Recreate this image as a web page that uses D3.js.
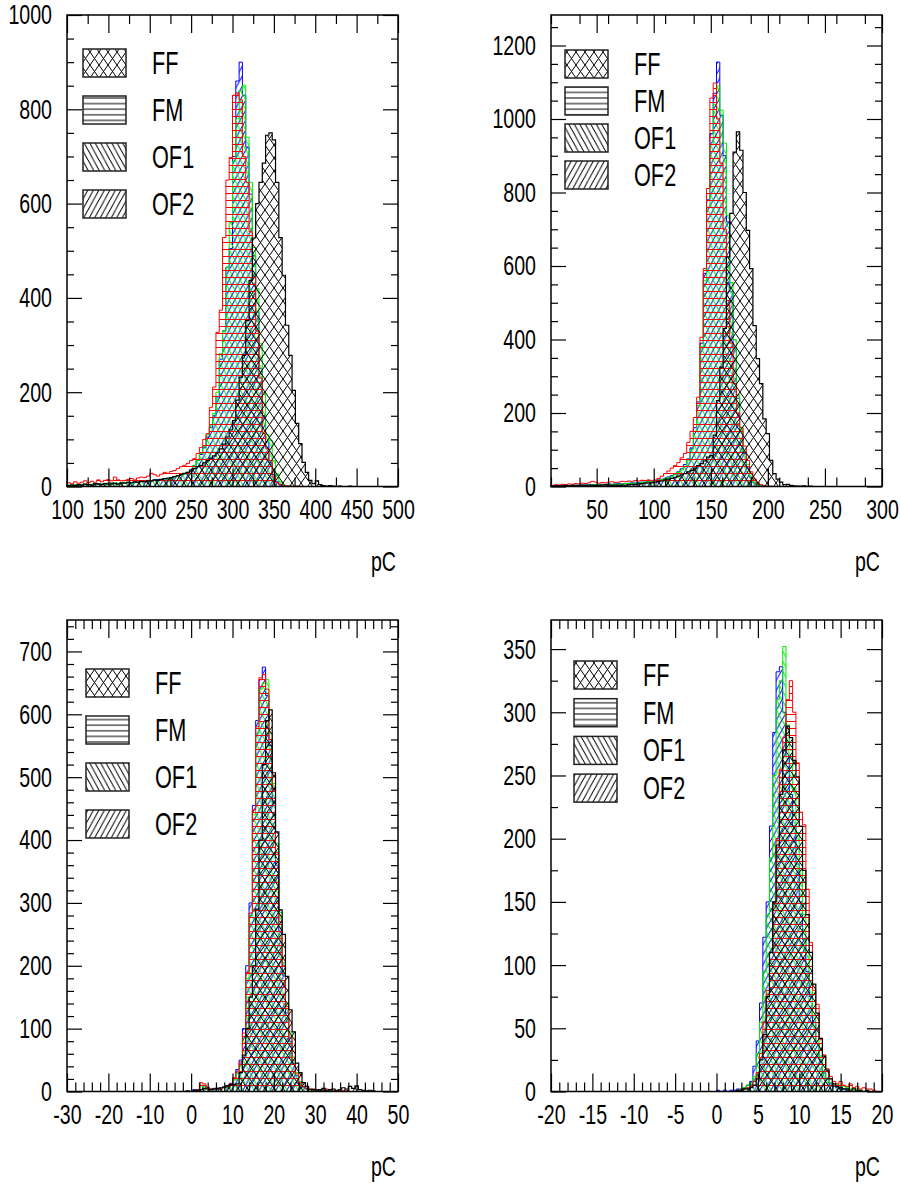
<!DOCTYPE html>
<html lang="en">
  <head>
    <meta charset="UTF-8" />
    <script src="https://d3js.org/d3.v7.min.js"></script>
    <title>pC spectra</title>
    <style>
      body { margin: 0; background: white; }
      text { font-family: "Liberation Sans", Arial, Helvetica, sans-serif; fill: black; }
      .tick line { stroke: black; stroke-width: 1.2px; }
    </style>
  </head>
  <body>
    <script>
      /*------------------- data (100 bins per histogram) --------------------*/
      const seriesNames = ["FF", "FM", "OF1", "OF2"];

      // panel 1 : 100..500 pC
      const p1XTicks = [100, 150, 200, 250, 300, 350, 400, 450, 500];
      const p1YTicks = [0, 200, 400, 600, 800, 1000];
      const p1_ff_first = 0;
      const p1_ff = [2,3,2,4,3,5,4,3,6,5,4,6,5,7,6,5,8,7,9,8,10,9,11,10,12,
        12,14,13,15,17,16,19,21,23,25,28,30,33,38,42,45,50,
        55,60,65,72,80,90,105,120,140,183,232,278,352,437,527,600,645,686,745,750,735,645,528,448,342,278,204,134,91,51,30,13,6,12,4,2,
        1,2,1,0,1,0,0,1];
      const p1_fm_first = 0;
      const p1_fm = [8,6,10,7,9,12,8,11,9,14,10,13,15,12,20,14,12,
        13,15,17,14,18,20,19,22,
        28,25,22,26,30,28,32,34,
        38,42,45,49,55,59,70,
        83,100,112,168,211,327,374,528,650,698,830,835,820,700,645,540,444,330,230,112,80,55,20,8,4,
        2,1,1,0,1];
      const p1_of1_first = 0;
      const p1_of1 = [3,2,4,3,5,4,3,5,6,4,5,7,6,5,8,7,6,9,8,7,10,9,11,10,12,
        12,14,13,15,16,18,17,20,22,24,26,
        28,35,45,55,70,85,110,130,155,200,282,330,465,560,690,780,840,851,741,645,507,420,303,200,110,98,55,27,10,3,
        2,1];
      const p1_of2_first = 0;
      const p1_of2 = [2,3,3,4,2,5,4,4,5,6,5,6,7,5,8,6,7,8,9,8,9,10,12,11,13,12,13,15,14,16,18,19,21,22,25,27,
        30,36,44,55,68,82,105,125,150,190,270,330,465,505,700,860,900,830,720,620,490,370,250,150,95,50,25,10,3,
        1,1];

      // panel 2 : 10..300 pC
      const p2XTicks = [50, 100, 150, 200, 250, 300];
      const p2YTicks = [0, 200, 400, 600, 800, 1000, 1200];
      const p2_ff_first = 0;
      const p2_ff = [1,2,1,2,3,2,3,2,3,4,3,2,4,3,3,4,5,4,3,4,
        3,4,4,5,6,5,7,8,9,10,
        10,12,14,15,18,20,22,25,28,32,
        35,40,44,50,57,62,70,80,
        84,140,234,325,430,625,743,910,965,915,800,697,593,438,348,280,184,144,71,35,20,12,5,6,3,2,
        1,1,2,0,1];
      const p2_fm_first = 0;
      const p2_fm = [3,5,4,6,5,7,6,8,7,9,8,10,14,12,9,11,10,12,13,11,
        12,14,13,15,14,16,15,17,16,18,
        15,18,22,28,35,42,50,57,65,78,90,120,150,188,243,
        406,593,811,1057,1098,1000,880,700,506,390,280,200,161,110,71,40,20,10,5,
        2,1,1];
      const p2_of1_first = 0;
      const p2_of1 = [1,2,1,2,2,3,2,3,3,4,3,4,4,5,4,5,6,5,6,7,6,7,8,8,9,10,9,11,12,13,
        14,15,17,19,21,24,28,32,38,45,55,70,100,150,
        220,380,560,760,930,1040,1090,1024,934,738,555,400,250,160,95,60,28,12,5,
        2,1];
      const p2_of2_first = 0;
      const p2_of2 = [2,1,2,3,2,2,3,4,3,3,4,5,4,5,5,6,5,7,6,7,8,7,8,9,10,9,11,12,12,14,
        15,16,18,20,22,26,30,34,40,48,60,75,105,160,
        230,390,580,780,960,1070,1155,1010,900,720,530,380,240,150,90,50,25,10,4,
        2,1];

      // panel 3 : -30..50 pC
      const p3XTicks = [-30, -20, -10, 0, 10, 20, 30, 40, 50];
      const p3YTicks = [0, 100, 200, 300, 400, 500, 600, 700];
      const p3_ff_first = 36;
      const p3_ff = [1,0,1,2,
        3,5,4,3,4,5,6,7,9,11,
        11,12,30,58,100,150,200,290,400,520,590,607,507,413,289,250,183,130,95,45,30,14,8,4,
        3,2,3,5,2,3,4,2,3,6,4,8,5,9,3,2,1,2,1];
      const p3_fm_first = 38;
      const p3_fm = [1,3,14,12,6,4,3,5,4,6,8,12,22,31,47,93,189,284,448,580,658,663,640,560,480,380,270,200,135,85,50,28,14,8,5,3,
        4,2,3,2,4,3,2,1,2,1,1];
      const p3_of1_first = 38;
      const p3_of1 = [1,2,10,8,5,4,3,4,5,6,7,10,18,28,42,85,180,280,440,570,640,650,655,570,490,395,285,205,140,95,55,30,16,8,4,
        3,2,2,3,1,2,1,1];
      const p3_of2_first = 38;
      const p3_of2 = [3,2,3,9,7,4,5,3,5,7,9,13,20,35,50,100,200,300,455,590,655,675,630,550,460,360,255,185,125,80,45,25,12,7,4,3,
        2,3,1,2,1];

      // panel 4 : -20..20 pC
      const p4XTicks = [-20, -15, -10, -5, 0, 5, 10, 15, 20];
      const p4YTicks = [0, 50, 100, 150, 200, 250, 300, 350];
      const p4_ff_first = 56;
      const p4_ff = [1,1,2,2,3,5,10,25,45,75,110,150,195,235,270,289,280,262,249,210,175,140,110,85,62,42,28,17,10,6,4,3,2,2,
        1,2,1,1,0,1];
      const p4_fm_first = 56;
      const p4_fm = [1,1,2,3,4,8,15,30,55,80,110,150,200,255,280,310,325,300,260,221,211,160,118,80,69,41,29,18,12,8,6,8,5,4,6,3,4,2,3,2,2,1];
      const p4_of1_first = 56;
      const p4_of1 = [1,2,3,5,7,12,30,55,95,140,185,250,310,325,352,290,270,240,205,175,140,110,85,60,40,28,15,10,7,5,6,3,4,3,2,3,2,1];
      const p4_of2_first = 50;
      const p4_of2 = [1,0,1,0,1,1,2,2,3,5,8,20,40,70,122,150,210,284,332,336,300,265,235,210,180,150,120,95,75,55,38,25,15,10,6,4,3,2,2,1];

      /*------------------- layout --------------------*/
      const panels = [
        { left: 67, top: 15, xDom: [100, 500], yDom: [0, 1000], xTicks: p1XTicks, yTicks: p1YTicks,
          xMinor: 25, yMinor: 50, legX: 83, legY: 49, legStep: 47,
          data: [[p1_ff_first, p1_ff], [p1_fm_first, p1_fm], [p1_of1_first, p1_of1], [p1_of2_first, p1_of2]] },
        { left: 551, top: 15, xDom: [10, 300], yDom: [0, 1283], xTicks: p2XTicks, yTicks: p2YTicks,
          xMinor: 25, yMinor: 50, legX: 565, legY: 50, legStep: 37,
          data: [[p2_ff_first, p2_ff], [p2_fm_first, p2_fm], [p2_of1_first, p2_of1], [p2_of2_first, p2_of2]] },
        { left: 67, top: 620, xDom: [-30, 50], yDom: [0, 750], xTicks: p3XTicks, yTicks: p3YTicks,
          xMinor: 2, yMinor: 20, legX: 86, legY: 669, legStep: 47,
          data: [[p3_ff_first, p3_ff], [p3_fm_first, p3_fm], [p3_of1_first, p3_of1], [p3_of2_first, p3_of2]] },
        { left: 551, top: 620, xDom: [-20, 20], yDom: [0, 373], xTicks: p4XTicks, yTicks: p4YTicks,
          xMinor: 1, yMinor: 25, legX: 574, legY: 661, legStep: 37.7,
          data: [[p4_ff_first, p4_ff], [p4_fm_first, p4_fm], [p4_of1_first, p4_of1], [p4_of2_first, p4_of2]] },
      ];
      const PW = 331, PH = 471.5, NBINS = 100, SX = 0.7;
      const colors = ["#000000", "#ff0000", "#00ee00", "#0000ff"];
      const drawOrder = [3, 2, 1, 0];
      // plain hyphen minus like the original plots
      const fmt = (d) => String(d);

      const svg = d3.select("body").append("svg").attr("width", 901).attr("height", 1184);
      const defs = svg.append("defs");

      // hatch patterns
      function crossPattern(id, col) {
        const p = defs.append("pattern").attr("id", id).attr("patternUnits", "userSpaceOnUse")
          .attr("width", 9).attr("height", 13);
        p.append("path").attr("d", "M0,0L9,13M-9,0L0,13M9,0L18,13M0,13L9,0M-9,13L0,0M9,13L18,0")
          .attr("stroke", col).attr("stroke-width", 1).attr("fill", "none");
      }
      function horizPattern(id, col, gap) {
        const p = defs.append("pattern").attr("id", id).attr("patternUnits", "userSpaceOnUse")
          .attr("width", 10).attr("height", gap);
        p.append("path").attr("d", `M0,${gap / 2}L10,${gap / 2}`).attr("stroke", col).attr("stroke-width", 1);
      }
      function slashPattern(id, col, back) {
        const w = 5.5, h = 10;
        const d = back
          ? `M0,0L${w},${h}M${-w},0L0,${h}M${w},0L${2 * w},${h}`
          : `M0,${h}L${w},0M${-w},${h}L0,0M${w},${h}L${2 * w},0`;
        const p = defs.append("pattern").attr("id", id).attr("patternUnits", "userSpaceOnUse")
          .attr("width", w).attr("height", h);
        p.append("path").attr("d", d).attr("stroke", col).attr("stroke-width", 1).attr("fill", "none");
      }
      crossPattern("h0", colors[0]);
      horizPattern("h1", colors[1], 7);
      slashPattern("h2", colors[2], true);
      slashPattern("h3", colors[3], false);
      crossPattern("l0", "#000");
      horizPattern("l1", "#000", 5.6);
      slashPattern("l2", "#000", true);
      slashPattern("l3", "#000", false);

      function condense(sel) {
        sel.each(function () {
          const t = d3.select(this);
          const x = +t.attr("x") || 0, y = +t.attr("y") || 0;
          t.attr("x", 0).attr("y", 0).attr("transform", `translate(${x},${y}) scale(${SX},1)`);
        });
      }
      function label(g, x, y, str, size, anchor) {
        g.append("text").attr("transform", `translate(${x},${y}) scale(${SX},1)`)
          .attr("text-anchor", anchor).style("font-size", size + "px").text(str);
      }

      panels.forEach((pn) => {
        const g = svg.append("g").attr("transform", `translate(${pn.left},${pn.top})`);
        const x = d3.scaleLinear().domain(pn.xDom).range([0, PW]);
        const y = d3.scaleLinear().domain(pn.yDom).range([PH, 0]);
        const binW = (pn.xDom[1] - pn.xDom[0]) / NBINS;

        // histograms
        drawOrder.forEach((si) => {
          const [first, counts] = pn.data[si];
          const pts = [[x(pn.xDom[0]), y(0)]];
          for (let k = 0; k < NBINS; k++) {
            const c = k >= first && k - first < counts.length ? counts[k - first] : 0;
            pts.push([x(pn.xDom[0] + k * binW), y(c)], [x(pn.xDom[0] + (k + 1) * binW), y(c)]);
          }
          pts.push([x(pn.xDom[1]), y(0)]);
          g.append("path").attr("d", d3.line()(pts) + "Z")
            .attr("fill", `url(#h${si})`).attr("stroke", colors[si])
            .attr("stroke-width", si === 0 ? 1.2 : 1);
        });

        // ticks: left/bottom with labels, right/top mirrored
        const xMinorVals = d3.range(pn.xDom[0], pn.xDom[1] + 1e-9, pn.xMinor).filter((v) => !pn.xTicks.includes(v));
        const yMinorVals = d3.range(pn.yDom[0], pn.yDom[1] + 1e-9, pn.yMinor).filter((v) => !pn.yTicks.includes(v));

        const xb = g.append("g").attr("transform", `translate(0,${PH})`)
          .call(d3.axisBottom(x).tickValues(pn.xTicks).tickSize(-18).tickPadding(13).tickFormat(fmt));
        xb.selectAll("text").style("font-size", "28px");
        condense(xb.selectAll("text"));
        g.append("g").attr("transform", `translate(0,${PH})`)
          .call(d3.axisBottom(x).tickValues(xMinorVals).tickSize(-9).tickFormat(""));
        g.append("g").call(d3.axisTop(x).tickValues(pn.xTicks).tickSize(-18).tickFormat(""));
        g.append("g").call(d3.axisTop(x).tickValues(xMinorVals).tickSize(-9).tickFormat(""));

        const yl = g.append("g")
          .call(d3.axisLeft(y).tickValues(pn.yTicks).tickSize(-15).tickPadding(15).tickFormat(fmt));
        yl.selectAll("text").style("font-size", "28px");
        condense(yl.selectAll("text"));
        g.append("g").call(d3.axisLeft(y).tickValues(yMinorVals).tickSize(-7).tickFormat(""));
        g.append("g").attr("transform", `translate(${PW},0)`)
          .call(d3.axisRight(y).tickValues(pn.yTicks).tickSize(-15).tickFormat(""));
        g.append("g").attr("transform", `translate(${PW},0)`)
          .call(d3.axisRight(y).tickValues(yMinorVals).tickSize(-7).tickFormat(""));
        g.selectAll(".domain").remove();

        // frame
        g.append("rect").attr("width", PW).attr("height", PH)
          .attr("fill", "none").attr("stroke", "black").attr("stroke-width", 1.5);

        // axis title
        label(g, PW - 2, PH + 84, "pC", 28, "end");

        // legend
        seriesNames.forEach((name, i) => {
          const by = pn.legY + i * pn.legStep;
          svg.append("rect").attr("x", pn.legX).attr("y", by).attr("width", 43).attr("height", 28)
            .attr("fill", `url(#l${i})`).attr("stroke", "#222").attr("stroke-width", 1.5);
          label(svg, pn.legX + 69, by + 25, name, 31, "start");
        });
      });
    </script>
  </body>
</html>
